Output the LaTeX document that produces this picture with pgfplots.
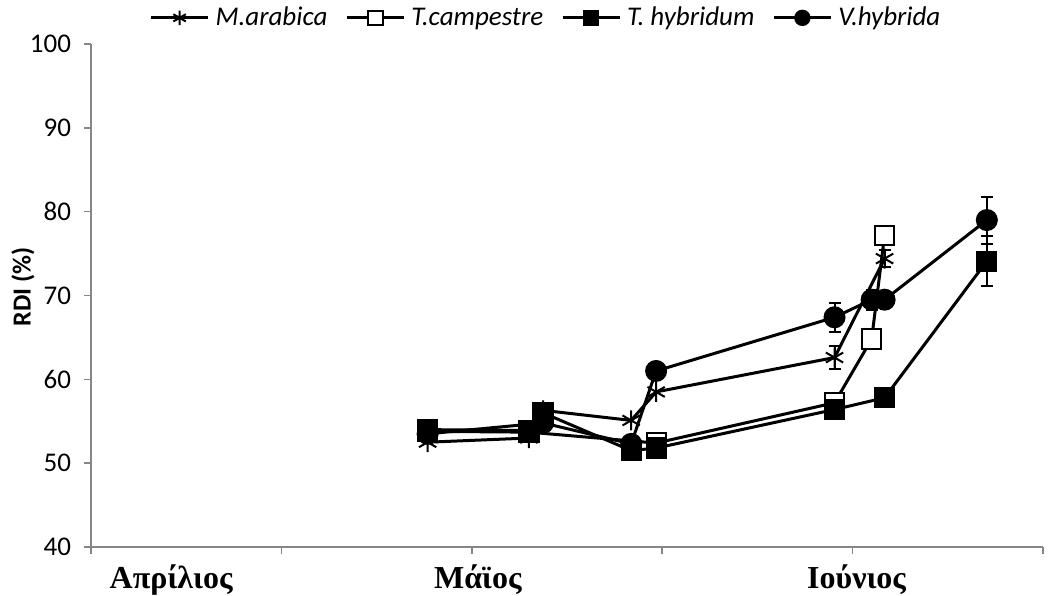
\documentclass[border=0pt]{standalone}
\usepackage{fontspec}
\setmainfont{Carlito}
\newfontfamily\grfont{Liberation Serif}
\usepackage{pgfplots}
\pgfplotsset{compat=1.18}
\definecolor{axisgray}{HTML}{868686}

\pgfplotstableread{
x y
1.768 52.5
2.300 53.0
2.374 56.3
2.837 55.1
2.968 58.5
3.905 62.6
4.168 74.4
}\marabica
\pgfplotstableread{
x y
1.768 53.8
2.300 53.7
2.968 52.4
3.905 57.2
4.100 64.8
4.168 77.2
}\tcampestre
\pgfplotstableread{
x y
1.768 54.0
2.300 53.9
2.374 56.0
2.837 51.5
2.968 51.8
3.905 56.4
4.168 57.8
4.705 74.1
}\thybridum
\pgfplotstableread{
x y
1.768 53.5
2.374 54.8
2.837 52.3
2.968 61.0
3.905 67.4
4.100 69.5
4.168 69.5
4.705 79.0
}\vhybrida
\pgfplotstableread{
x y e
3.905 62.6 1.4
4.168 74.4 1.0
3.905 57.2 0.5
4.100 64.8 0.5
4.168 77.2 0.5
4.705 74.1 3.0
3.905 67.4 1.7
4.100 69.5 1.2
4.705 79.0 2.8
}\errs

\begin{document}
\begin{tikzpicture}
\path[use as bounding box] (0,0) rectangle (526.5pt,297.5pt);
\begin{axis}[
  at={(45.5pt,24pt)}, anchor=south west,
  scale only axis, width=476pt, height=251.5pt,
  xmin=0, xmax=5, ymin=40, ymax=100,
  xtick={0,1,2,3,4,5}, xticklabels={},
  ytick={40,50,60,70,80,90,100},
  axis lines=left,
  axis line style={-, draw=axisgray, line width=0.8pt},
  tick style={draw=axisgray, line width=0.8pt},
  tick align=outside, major tick length=3.5pt,
  /pgf/number format/assume math mode=true,
  yticklabel style={font=\fontsize{13.5}{15}\selectfont, xshift=-3pt},
  ylabel={\bfseries RDI (\%)},
  ylabel style={font=\fontsize{13}{15}\selectfont, at={(axis description cs:-0.0714,0.517)}, anchor=center, rotate=0},
  clip=false,
  legend columns=4,
  legend style={at={(axis description cs:0.479,1.052)}, anchor=center, draw=none, fill=none,
    font=\itshape\fontsize{13.5}{16}\selectfont,
    /tikz/every even column/.append style={column sep=7pt},
    /tikz/every odd column/.append style={column sep=1pt}},
  legend image code/.code={\draw[mark repeat=2, mark phase=2, mark size=3.6pt] plot coordinates {(0cm,0cm) (0.5cm,0cm) (1.0cm,0cm)};},
]
\addplot[black, line width=1.5pt, mark=asterisk, mark size=5pt, mark options={line width=1pt, solid}] table[x=x,y=y] {\marabica};
\addlegendentry{M.arabica}
\addplot[black, line width=1.5pt, mark=square*, mark size=4.8pt, mark options={line width=1pt, fill=white, solid}] table[x=x,y=y] {\tcampestre};
\addlegendentry{T.campestre}
\addplot[black, line width=1.5pt, mark=square*, mark size=4.8pt, mark options={line width=1pt, fill=black, solid}] table[x=x,y=y] {\thybridum};
\addlegendentry{T. hybridum}
\addplot[black, line width=1.5pt, mark=*, mark size=5pt, mark options={line width=1pt, fill=black, solid}] table[x=x,y=y] {\vhybrida};
\addlegendentry{V.hybrida}
\addplot[draw=none, mark=none, forget plot, error bars/.cd, y dir=both, y explicit,
  error bar style={black, line width=1pt},
  error mark options={black, rotate=90, mark size=3pt, line width=1pt}] table[x=x,y=y,y error=e] {\errs};
\node[font=\grfont\bfseries\fontsize{16}{19}\selectfont, anchor=base, yshift=-20.5pt] at (axis cs:0.421,40) {Απρίλιος};
\node[font=\grfont\bfseries\fontsize{16}{19}\selectfont, anchor=base, yshift=-20.5pt] at (axis cs:2.032,40) {Μάϊος};
\node[font=\grfont\bfseries\fontsize{16}{19}\selectfont, anchor=base, yshift=-20.5pt] at (axis cs:4.021,40) {Ιούνιος};
\end{axis}
\end{tikzpicture}
\end{document}
